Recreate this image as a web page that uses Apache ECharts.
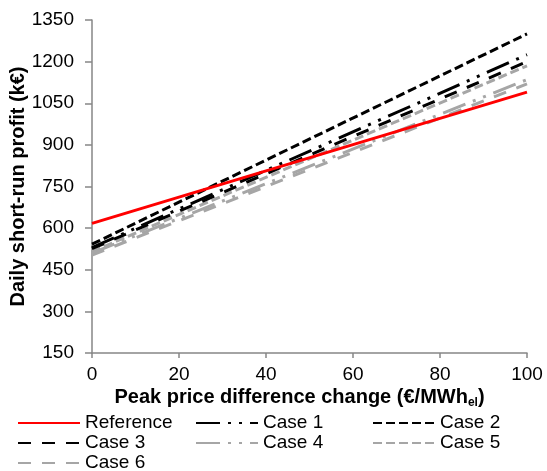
<!DOCTYPE html>
<html>
<head>
<meta charset="utf-8">
<script src="https://cdn.jsdelivr.net/npm/echarts@6/dist/echarts.min.js"></script>
<style>
  html, body { margin: 0; padding: 0; background: #fff; }
  #chart { width: 547px; height: 471px; }
</style>
</head>
<body>
<div id="chart"></div>
<script>
// x values (peak price difference change) and the profit at each end
const xValues = [0, 100]
const reference = [617, 1090]
const case1 = [530, 1225]
const case2 = [542, 1300]
const case3 = [526, 1200]
const case4 = [510, 1135]
const case5 = [515, 1185]
const case6 = [503, 1120]

const yTicks = { min: 150, max: 1350, step: 150 }
const xTicks = { min: 0, max: 100, step: 20 }

const font = 'Liberation Sans, Arial, sans-serif'
const black = '#000000'
const grey = '#A6A6A6'
const dashDot = [24, 8, 3, 8, 3, 8]
const shortDash = [9, 4]
const longDash = [13, 11]

const pairs = vals => xValues.map((x, i) => [x, vals[i]])

const mkSeries = (name, vals, color, type) => ({
  name,
  type: 'line',
  data: pairs(vals),
  symbol: 'none',
  showSymbol: false,
  lineStyle: { color, width: 3, type, cap: 'butt' },
  itemStyle: { color },
  animation: false
})

const series = [
  mkSeries('Case 6', case6, grey, longDash),
  mkSeries('Case 5', case5, grey, shortDash),
  mkSeries('Case 4', case4, grey, dashDot),
  mkSeries('Case 3', case3, black, longDash),
  mkSeries('Case 1', case1, black, dashDot),
  mkSeries('Case 2', case2, black, shortDash),
  mkSeries('Reference', reference, '#FF0000', 'solid')
]

// legend icons: keep the dashed line, hide the default circle
const legendBase = {
  orient: 'vertical',
  top: 413,
  height: 64,
  itemWidth: 62,
  itemHeight: 14,
  itemGap: 0,
  padding: 0,
  selectedMode: false,
  itemStyle: { opacity: 0 },
  textStyle: { fontFamily: font, fontSize: 19, lineHeight: 20, color: '#000' }
}

const option = {
  animation: false,
  grid: { left: 92, right: 20, top: 20, bottom: 118, outerBoundsMode: 'none', containLabel: false },
  legend: [
    Object.assign({}, legendBase, { left: 17, data: ['Reference', 'Case 3', 'Case 6'] }),
    Object.assign({}, legendBase, { left: 195, data: ['Case 1', 'Case 4'] }),
    Object.assign({}, legendBase, { left: 372, data: ['Case 2', 'Case 5'] })
  ],
  xAxis: {
    type: 'value',
    min: xTicks.min,
    max: xTicks.max,
    interval: xTicks.step,
    name: '{b|Peak price difference change (€/MWh}{s|el}{b|)}',
    nameLocation: 'middle',
    nameGap: 33,
    nameMoveOverlap: false,
    nameTextStyle: {
      padding: [0, 20, 0, 0],
      rich: {
        b: { fontFamily: font, fontSize: 20, fontWeight: 'bold', color: '#000' },
        s: { fontFamily: font, fontSize: 12, fontWeight: 'bold', color: '#000', padding: [11, 0, 0, 0] }
      }
    },
    axisLine: { lineStyle: { color: '#868686', width: 1.5 } },
    axisTick: { show: true, inside: false, length: 5, lineStyle: { color: '#868686', width: 1.5 } },
    axisLabel: { fontFamily: font, fontSize: 19, color: '#000', margin: 12, formatter: v => String(v) },
    splitLine: { show: false }
  },
  yAxis: {
    type: 'value',
    min: yTicks.min,
    max: yTicks.max,
    interval: yTicks.step,
    name: 'Daily short-run profit (k€)',
    nameLocation: 'middle',
    nameGap: 64,
    nameMoveOverlap: false,
    nameTextStyle: { fontFamily: font, fontSize: 20, fontWeight: 'bold', color: '#000' },
    axisLine: { show: true, lineStyle: { color: '#868686', width: 1.5 } },
    axisTick: { show: true, inside: false, length: 7, lineStyle: { color: '#868686', width: 1.5 } },
    axisLabel: { fontFamily: font, fontSize: 19, color: '#000', margin: 18, formatter: v => String(v) },
    splitLine: { show: false }
  },
  series
}

const myChart = echarts.init(document.getElementById('chart'), null, { renderer: 'canvas' })
myChart.setOption(option)
</script>
</body>
</html>
